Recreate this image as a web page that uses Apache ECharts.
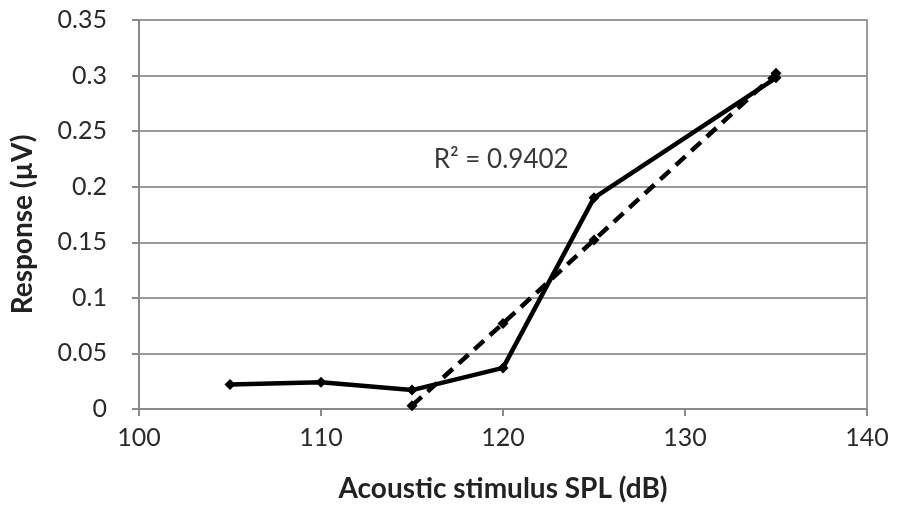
<!DOCTYPE html>
<html>
<head>
<meta charset="utf-8">
<script src="https://cdn.jsdelivr.net/npm/echarts@6/dist/echarts.min.js"></script>
<style>
  html, body { margin: 0; padding: 0; background: #fff; }
  #chart { width: 897px; height: 523px; }
</style>
</head>
<body>
<div id="chart"></div>
<script>
// Measured response vs. stimulus level
const splLevels = [105, 110, 115, 120, 125, 135];
const responseValues = [0.022, 0.024, 0.017, 0.037, 0.19, 0.298];

// Fitted trend points
const fitLevels = [115, 120, 125, 135];
const fitValues = [0.003, 0.077, 0.152, 0.302];

const fitLabel = 'R² = 0.9402';
const fitLabelAt = [119.9, 0.224];

const xTicks = [100, 110, 120, 130, 140];
const yTicks = [0, 0.05, 0.1, 0.15, 0.2, 0.25, 0.3, 0.35];

const pairs = (xs, ys) => xs.map((x, i) => [x, ys[i]]);

const font = 'Lato, "Open Sans", sans-serif';
const chart = echarts.init(document.getElementById('chart'), null, { renderer: 'canvas' });

chart.setOption({
  animation: false,
  backgroundColor: '#ffffff',
  grid: { left: 139, right: 30, top: 20, bottom: 114, show: true, borderColor: '#9a9a9a', borderWidth: 2 },
  xAxis: {
    type: 'value',
    min: xTicks[0], max: xTicks[xTicks.length - 1], interval: 10,
    name: 'Acoustic stimulus SPL (dB)',
    nameLocation: 'middle', nameGap: 66,
    nameTextStyle: { fontFamily: font, fontSize: 28, fontWeight: 'bold', color: '#222' },
    axisLine: { lineStyle: { color: '#8a8a8a', width: 2 } },
    axisTick: { show: true, length: 7, lineStyle: { color: '#8a8a8a', width: 2 } },
    axisLabel: { fontFamily: font, fontSize: 25, color: '#2a2a2a', margin: 16 },
    splitLine: { show: false }
  },
  yAxis: {
    type: 'value',
    min: yTicks[0], max: yTicks[yTicks.length - 1], interval: 0.05,
    name: 'Response (µV)',
    nameLocation: 'middle', nameGap: 102, nameRotate: 90,
    nameTextStyle: { fontFamily: font, fontSize: 28, fontWeight: 'bold', color: '#222', padding: [0, 20, 0, 0] },
    axisLine: { show: true, lineStyle: { color: '#8a8a8a', width: 2 } },
    axisTick: { show: true, length: 7, lineStyle: { color: '#8a8a8a', width: 2 } },
    axisLabel: { fontFamily: font, fontSize: 25, color: '#2a2a2a', margin: 32,
      formatter: v => String(+v.toFixed(2)) },
    splitLine: { show: true, lineStyle: { color: '#9a9a9a', width: 2 } }
  },
  series: [
    {
      name: 'Response',
      type: 'line',
      data: pairs(splLevels, responseValues),
      symbol: 'diamond', symbolSize: 11, showAllSymbol: true,
      lineStyle: { color: '#000', width: 4.5 },
      itemStyle: { color: '#000' },
      z: 3
    },
    {
      name: 'Fit',
      type: 'line',
      data: pairs(fitLevels, fitValues),
      symbol: 'diamond', symbolSize: 11, showAllSymbol: true,
      lineStyle: { color: '#000', width: 4.5, type: [13, 8] },
      itemStyle: { color: '#000' },
      z: 2,
      markPoint: {
        symbol: 'rect', symbolSize: 1,
        itemStyle: { color: 'rgba(0,0,0,0)' },
        label: { show: true, formatter: fitLabel, fontFamily: font, fontSize: 26, color: '#3a3a3a', position: 'inside' },
        data: [{ coord: fitLabelAt }]
      }
    }
  ]
});
</script>
</body>
</html>
